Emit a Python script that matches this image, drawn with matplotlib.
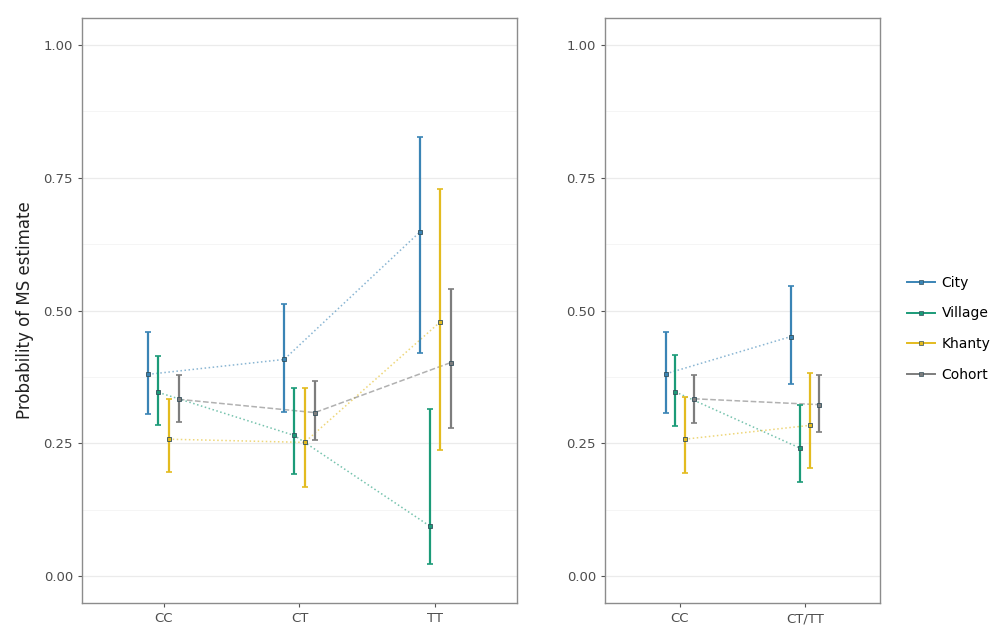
import numpy as np
import matplotlib
matplotlib.use("Agg")
import matplotlib.pyplot as plt
from matplotlib.lines import Line2D

groups = ["City", "Village", "Khanty", "Cohort"]
colors = ["#3a84b5", "#1b9b78", "#e3bb1f", "#7d7d7d"]
styles = [":", ":", ":", "--"]

# left panel: genotype CC / CT / TT
cats_a = ["CC", "CT", "TT"]
est_a = {
    "City":    [0.380, 0.408, 0.648],
    "Village": [0.346, 0.265, 0.094],
    "Khanty":  [0.258, 0.252, 0.479],
    "Cohort":  [0.333, 0.308, 0.402],
}
lo_a = {
    "City":    [0.306, 0.310, 0.421],
    "Village": [0.284, 0.192, 0.023],
    "Khanty":  [0.196, 0.168, 0.237],
    "Cohort":  [0.290, 0.256, 0.280],
}
hi_a = {
    "City":    [0.459, 0.513, 0.827],
    "Village": [0.415, 0.355, 0.314],
    "Khanty":  [0.333, 0.355, 0.729],
    "Cohort":  [0.378, 0.368, 0.541],
}

# right panel: CC vs CT/TT
cats_b = ["CC", "CT/TT"]
est_b = {
    "City":    [0.381, 0.451],
    "Village": [0.347, 0.241],
    "Khanty":  [0.258, 0.284],
    "Cohort":  [0.334, 0.323],
}
lo_b = {
    "City":    [0.307, 0.361],
    "Village": [0.283, 0.177],
    "Khanty":  [0.195, 0.203],
    "Cohort":  [0.289, 0.272],
}
hi_b = {
    "City":    [0.460, 0.547],
    "Village": [0.416, 0.323],
    "Khanty":  [0.338, 0.383],
    "Cohort":  [0.378, 0.378],
}

dodge = 0.075


def panel(ax, cats, est, lo, hi):
    x = np.arange(1, len(cats) + 1)
    for i, g in enumerate(groups):
        xi = x + (i - 1.5) * dodge
        e = np.array(est[g])
        err = [e - np.array(lo[g]), np.array(hi[g]) - e]
        ax.plot(xi, e, linestyle=styles[i], color=colors[i], lw=1.1, alpha=0.6, zorder=2)
        ax.errorbar(xi, e, yerr=err, fmt="none", ecolor=colors[i], elinewidth=1.6,
                    capsize=2.5, capthick=1.2, zorder=3)
        ax.plot(xi, e, "s", color=colors[i], mec="#34505c", mew=0.6, ms=3.2, zorder=4)
    ax.set_xlim(0.4, len(cats) + 0.6)
    ax.set_ylim(-0.05, 1.05)
    ax.set_xticks(x)
    ax.set_xticklabels(cats)
    ax.set_yticks([0, 0.25, 0.5, 0.75, 1.0])
    ax.set_yticklabels(["0.00", "0.25", "0.50", "0.75", "1.00"])
    ax.set_yticks([0.125, 0.375, 0.625, 0.875], minor=True)
    ax.grid(axis="y", which="major", color="#ebebeb", lw=0.9)
    ax.grid(axis="y", which="minor", color="#f4f4f4", lw=0.6)
    ax.set_axisbelow(True)
    ax.tick_params(axis="both", which="major", length=3, color="#555555",
                   labelcolor="#4d4d4d", labelsize=9.5)
    ax.tick_params(axis="y", which="minor", length=0)
    for s in ax.spines.values():
        s.set_color("#8c8c8c")
        s.set_linewidth(1.0)


fig = plt.figure(figsize=(9.96, 6.25), dpi=100)
ax1 = fig.add_axes([0.0823, 0.0352, 0.4367, 0.936])
ax2 = fig.add_axes([0.6074, 0.0352, 0.2761, 0.936])
panel(ax1, cats_a, est_a, lo_a, hi_a)
panel(ax2, cats_b, est_b, lo_b, hi_b)
ax1.set_ylabel("Probability of MS estimate", fontsize=12, color="#222222", labelpad=7)

handles = [Line2D([0], [0], color=colors[i], lw=1.4, marker="s", ms=3, mec="#34505c", mew=0.5)
           for i in range(len(groups))]
fig.legend(handles, groups, loc="center left", bbox_to_anchor=(0.898, 0.474), frameon=False,
           fontsize=10, handlelength=2.0, labelspacing=1.2, handletextpad=0.5)

fig.savefig("out.png", dpi=100)
